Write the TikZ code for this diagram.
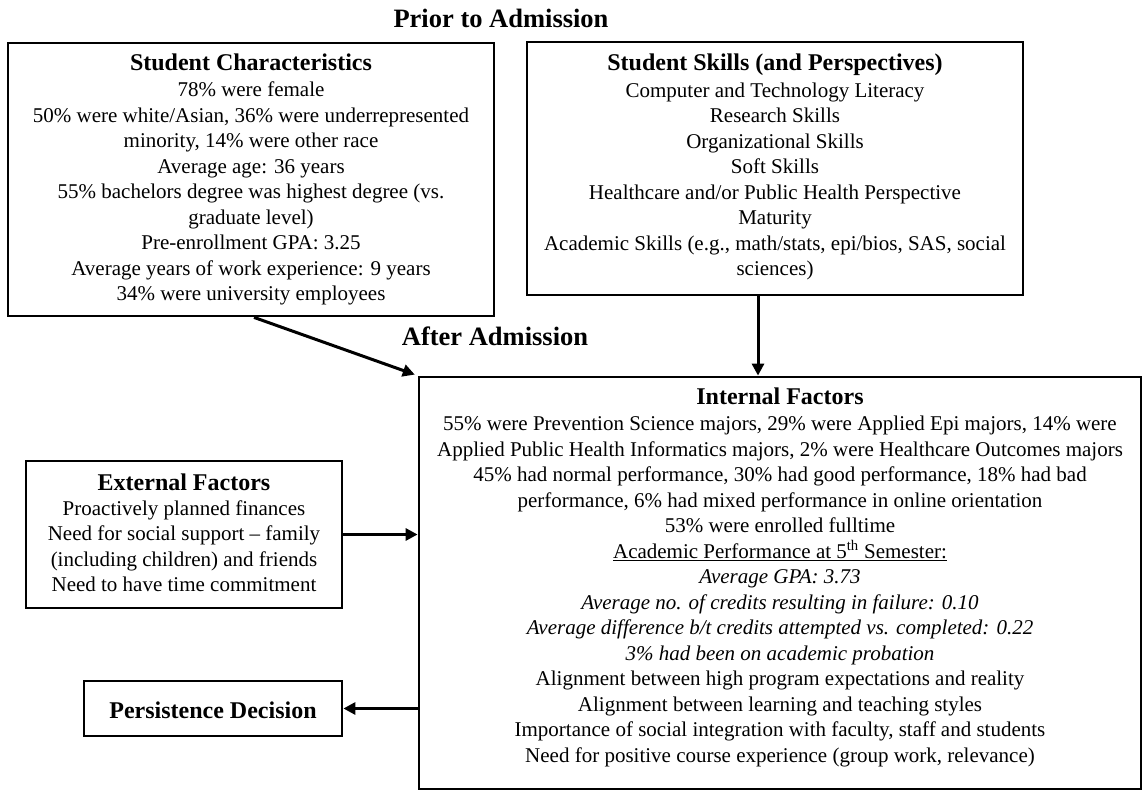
\documentclass[tikz,border=0pt]{standalone}
\usepackage{fontspec}
\setmainfont{Liberation Serif}
\usetikzlibrary{arrows.meta}
\newcommand{\boxtitle}{\bfseries\fontsize{24}{25.5}\selectfont}
\newcommand{\firstline}{\rule{0pt}{20pt}}
\begin{document}
\begin{tikzpicture}[x=1pt, y=-1pt,
  box/.style={draw, line width=2.8pt, inner sep=0pt},
  body/.style={align=center, inner sep=0pt, anchor=north,
               font=\fontsize{21}{25.5}\selectfont},
  head/.style={inner sep=0pt, anchor=base,
               font=\bfseries\fontsize{26.5}{30}\selectfont},
  conn/.style={line width=3pt, -{Triangle[length=12pt, width=12pt]}}]
\useasboundingbox[fill=white] (0,0) rectangle (1143,791);

% section headings
\node[head] (prior) at (501,28) {Prior to Admission};
\node[head] (after) at (495,346) {After Admission};

% frames
\node[box, minimum width=486pt, minimum height=273pt] (chars) at (251,179.5) {};
\node[box, minimum width=496pt, minimum height=253pt] (skills) at (775,168.5) {};
\node[box, minimum width=722pt, minimum height=412pt] (internal) at (780,583) {};
\node[box, minimum width=316pt, minimum height=147pt] (external) at (184,534.5) {};
\node[box, minimum width=258pt, minimum height=55pt] (persist) at (213,708.5) {};

% contents
\node[body] (charstext) at (251,50.5) {\firstline{\boxtitle Student Characteristics}\\[0.5pt]
  78\% were female\\
  50\% were white/Asian, 36\% were underrepresented\\
  minority, 14\% were other race\\
  Average age: 36 years\\
  55\% bachelors degree was highest degree (vs.\\
  graduate level)\\
  Pre-enrollment GPA: 3.25\\
  Average years of work experience: 9 years\\
  34\% were university employees};

\node[body] (skillstext) at (775,50) {\firstline{\boxtitle Student Skills (and Perspectives)}\\[1.5pt]
  Computer and Technology Literacy\\
  Research Skills\\
  Organizational Skills\\
  Soft Skills\\
  Healthcare and/or Public Health Perspective\\
  Maturity\\
  Academic Skills (e.g., math/stats, epi/bios, SAS, social\\
  sciences)};

\node[body] (internaltext) at (780,384) {\firstline{\boxtitle Internal Factors}\\[1pt]
  55\% were Prevention Science majors, 29\% were Applied Epi majors, 14\% were\\
  Applied Public Health Informatics majors, 2\% were Healthcare Outcomes majors\\
  45\% had normal performance, 30\% had good performance, 18\% had bad\\
  performance, 6\% had mixed performance in online orientation\\
  53\% were enrolled fulltime\\
  \underline{Academic Performance at 5\textsuperscript{th} Semester:}\\
  \textit{Average GPA: 3.73}\\
  \textit{Average no. of credits resulting in failure: 0.10}\\
  \textit{Average difference b/t credits attempted vs. completed: 0.22}\\
  \textit{3\% had been on academic probation}\\
  Alignment between high program expectations and reality\\
  Alignment between learning and teaching styles\\
  Importance of social integration with faculty, staff and students\\
  Need for positive course experience (group work, relevance)};

\node[body] (externaltext) at (184,470) {\firstline{\boxtitle External Factors}\\[-0.5pt]
  Proactively planned finances\\
  Need for social support -- family\\
  (including children) and friends\\
  Need to have time commitment};

\node[inner sep=0pt, anchor=base, font=\boxtitle] (persisttext) at (213,718) {Persistence Decision};

% connectors
\draw[conn, shorten >=3pt] ([xshift=3pt]chars.south) -- (internal.north west);
\draw[conn] ([xshift=-17pt]skills.south) -- ([xshift=-17pt]skills.south |- internal.north);
\draw[conn] (external.east) -- (external.east -| internal.west);
\draw[conn] (persist.east -| internal.west) -- (persist.east);
\end{tikzpicture}
\end{document}
